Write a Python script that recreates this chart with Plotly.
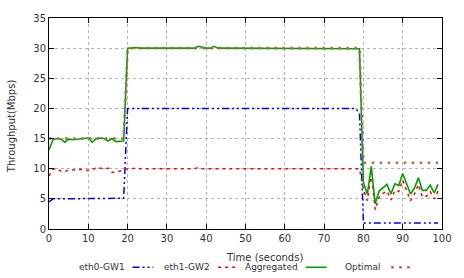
import plotly.graph_objects as go

time_s = list(range(100))

eth0_gw1 = ([4.5] + [5.0] * 18 + [5.1]
            + [20.0] * 59 + [19.2]
            + [1.0, 1.0, 1.0, 1.0, 1.0, 1.0, 1.0, 1.0, 1.0, 1.0,
               1.1, 1.1, 1.0, 1.0, 1.0, 1.0, 1.0, 1.0, 1.0, 1.0])

eth1_gw2 = ([8.8, 9.9, 10.0, 9.6, 9.5, 9.8, 9.8, 9.9, 9.9, 9.8,
             9.7, 9.9, 10.1, 10.1, 9.9, 10.1, 9.4, 9.4, 9.6, 9.9]
            + [10.0, 10.0, 10.1, 10.0, 10.0, 10.0, 10.0, 10.0, 10.0, 10.0,
               10.0, 10.0, 10.0, 10.0, 10.0, 10.0, 10.0, 10.0, 10.2, 10.0,
               10.0, 10.0, 10.1, 10.0, 10.0, 10.0, 10.0, 10.0, 10.0, 10.0,
               10.0, 10.0, 10.0, 10.0, 10.0, 10.0, 10.0, 10.0, 10.0, 10.0,
               10.0, 10.0, 10.0, 10.0, 10.0, 10.0, 10.0, 10.0, 10.0, 10.0,
               10.0, 10.0, 10.0, 10.0, 10.0, 10.0, 10.0, 10.0, 10.0, 10.0]
            + [6.6, 4.7, 9.2, 3.2, 5.3, 5.9, 6.3, 4.8, 6.4, 6.2,
               8.1, 6.4, 4.7, 5.8, 7.4, 5.3, 5.4, 6.2, 5.0, 6.3])

aggregated = ([13.1, 14.8, 15.0, 14.9, 14.4, 14.9, 14.8, 14.9, 14.9, 15.0,
               15.1, 14.4, 15.0, 15.1, 15.0, 14.6, 15.0, 14.5, 14.6, 14.6]
              + [30.0, 30.1, 30.1, 30.0, 30.0, 30.0, 30.0, 30.0, 30.0, 30.0,
                 30.0, 30.0, 30.0, 30.0, 30.0, 30.0, 30.0, 30.0, 30.3, 30.1,
                 30.0, 30.0, 30.3, 30.0, 30.0, 30.0, 30.0, 30.0, 30.0, 30.0,
                 30.0, 30.0, 30.0, 30.0, 30.0, 30.0, 30.0, 30.0, 30.0, 30.0,
                 30.0, 30.0, 30.0, 30.0, 30.0, 30.0, 30.0, 30.0, 30.0, 30.0,
                 30.0, 30.0, 30.0, 30.0, 30.0, 30.0, 30.0, 30.0, 30.0, 29.9]
              + [7.7, 5.8, 10.4, 4.2, 6.3, 6.9, 7.4, 5.8, 7.5, 7.2,
                 9.2, 7.5, 5.8, 6.8, 8.5, 6.4, 6.4, 7.3, 6.0, 7.4])

optimal = [15.0] * 20 + [30.0] * 60 + [11.0] * 20

x_ticks = [0, 10, 20, 30, 40, 50, 60, 70, 80, 90, 100]
y_ticks = [0, 5, 10, 15, 20, 25, 30, 35]

series_names = ["eth0-GW1", "eth1-GW2", "Aggregated", "Optimal"]
series_data = [eth0_gw1, eth1_gw2, aggregated, optimal]
colors = ["#0000ff", "#ff0000", "#00a000", "#b06a48"]
dashes = ["7px,3px,2px,3px,2px,3px", "3px,4px", "solid", "2.5px,5.5px"]
widths = [1.5, 1.5, 1.6, 2.6]

FONT = "DejaVu Sans"

fig = go.Figure()
for name, ys, c, d, w in zip(series_names, series_data, colors, dashes, widths):
    fig.add_trace(go.Scatter(x=time_s, y=ys, mode="lines", name=name,
                             line=dict(color=c, dash=d, width=w),
                             showlegend=False))

# plot area in pixels: x 49..444, y 14..229
L, R, T, B = 49, 444, 14, 229
W, H = R - L, B - T

def px(xp):
    return (xp - L) / W

def py(yp):
    return (B - yp) / H

annotations = []
shapes = []
legend_text_right = [127, 213, 301, 385]
legend_sample = [(133, 154), (219, 240), (307, 328), (393, 412)]
ly = 268
for name, xr, (s0, s1), c, d, w in zip(series_names, legend_text_right,
                                       legend_sample, colors, dashes, widths):
    annotations.append(dict(x=px(xr), y=py(ly), xref="paper", yref="paper",
                            text=name, showarrow=False, xanchor="right",
                            yanchor="middle",
                            font=dict(family=FONT, size=9, color="#333")))
    shapes.append(dict(type="line", xref="paper", yref="paper",
                       x0=px(s0), x1=px(s1), y0=py(ly), y1=py(ly),
                       line=dict(color=c, dash=d, width=w)))

annotations.append(dict(x=px(266), y=py(258), xref="paper", yref="paper",
                        text="Time (seconds)", showarrow=False,
                        xanchor="center", yanchor="middle",
                        font=dict(family=FONT, size=10, color="#333")))
annotations.append(dict(x=px(12), y=py(124), xref="paper", yref="paper",
                        text="Throughput(Mbps)", showarrow=False, textangle=-90,
                        xanchor="center", yanchor="middle",
                        font=dict(family=FONT, size=10, color="#333")))

axis_common = dict(showline=True, mirror="ticks", linecolor="#000",
                   linewidth=1, ticks="inside", ticklen=5, tickcolor="#000",
                   showgrid=True, gridcolor="#b4b4b4", griddash="dot",
                   gridwidth=1, zeroline=False,
                   tickfont=dict(family=FONT, size=10, color="#333"))

fig.update_layout(
    width=464, height=278,
    margin=dict(l=L, r=464 - R, t=T, b=278 - B),
    paper_bgcolor="white", plot_bgcolor="white",
    xaxis=dict(range=[0, 100], tickvals=x_ticks, **axis_common),
    yaxis=dict(range=[0, 35], tickvals=y_ticks, **axis_common),
    annotations=annotations, shapes=shapes,
    showlegend=False,
)

fig.write_html("out.html", config={"displayModeBar": False},
               post_script="document.body.style.margin='0px';"
                           "document.body.style.overflow='hidden';")
